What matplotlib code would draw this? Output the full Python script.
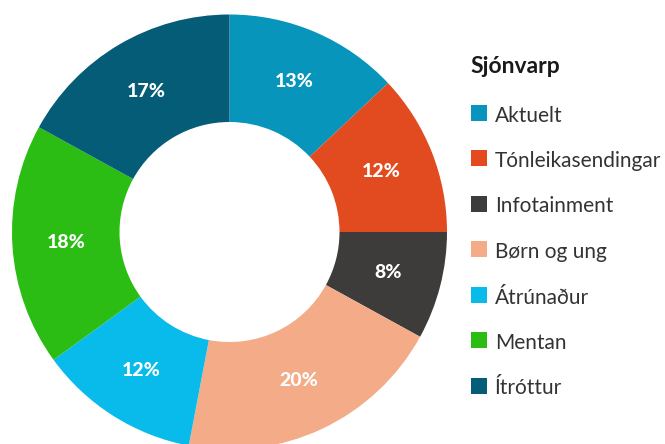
import numpy as np
import matplotlib.pyplot as plt
import matplotlib.patches as patches

# data
categories = ['Aktuelt', 'Tónleikasendingar', 'Infotainment', 'Børn og ung',
              'Átrúnaður', 'Mentan', 'Ítróttur']
shares = [13, 12, 8, 20, 12, 18, 17]
colors = ['#0795bb', '#e24b1f', '#3d3c3a', '#f3ab88', '#08bbeb', '#2bbd14', '#045c77']
legend_title = 'Sjónvarp'

plt.rcParams['font.family'] = ['Lato', 'DejaVu Sans']

W, H = 665, 444
fig = plt.figure(figsize=(W / 100, H / 100), dpi=100)
ax = fig.add_axes([0, 0, 1, 1])

cx, cy = 229.5, H - 232
r_out, r_in = 217.5, 110

wedges, _ = ax.pie(shares, colors=colors, startangle=90, counterclock=False,
                   center=(cx, cy), radius=r_out, frame=True,
                   wedgeprops=dict(width=r_out - r_in, linewidth=0))
ax.set_xlim(0, W)
ax.set_ylim(0, H)
ax.set_aspect('equal')
ax.axis('off')

# percentage labels in the middle of the ring
r_mid = (r_out + r_in) / 2
for w, v in zip(wedges, shares):
    ang = np.deg2rad((w.theta1 + w.theta2) / 2)
    ax.text(cx + r_mid * np.cos(ang), cy + r_mid * np.sin(ang), f'{v}%',
            color='white', fontsize=14, fontweight='black',
            ha='center', va='center')

# legend drawn by hand
ax.text(470, H - 73, legend_title, fontsize=16.5, fontweight='bold',
        color='#1a1a1a', ha='left', va='baseline')
y0, step = 113, 45.5
for i, (name, c) in enumerate(zip(categories, colors)):
    y = H - (y0 + i * step)
    ax.add_patch(patches.Rectangle((471, y - 8), 16, 16, facecolor=c, edgecolor='none'))
    ax.text(495, y - 8.5, name, fontsize=15, color='#333333', ha='left', va='baseline')

fig.savefig('out.png', dpi=100)
